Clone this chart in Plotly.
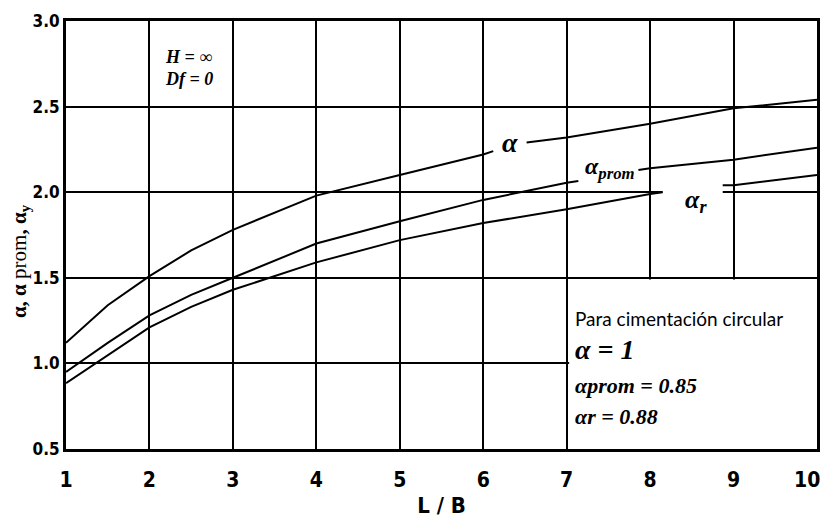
import plotly.graph_objects as go

# L/B ratio and the three influence factors (None marks a break where a label sits)
lb_alpha = [1, 1.5, 2, 2.5, 3, 3.5, 4, 5, 6, 6.12, None, 6.52, 7, 8, 9, 10]
alpha = [1.12, 1.34, 1.51, 1.66, 1.78, 1.88, 1.98, 2.10, 2.22, 2.24, None, 2.29, 2.32, 2.40, 2.49, 2.54]

lb_prom = [1, 1.5, 2, 2.5, 3, 4, 5, 6, 7, 7.14, None, 7.86, 8, 9, 10]
alpha_prom = [0.95, 1.12, 1.28, 1.40, 1.50, 1.70, 1.83, 1.955, 2.055, 2.065, None, 2.13, 2.14, 2.19, 2.26]

lb_r = [1, 1.5, 2, 2.5, 3, 4, 5, 6, 7, 8, 8.15, None, 8.87, 9, 10]
alpha_r = [0.885, 1.05, 1.21, 1.33, 1.43, 1.59, 1.72, 1.82, 1.90, 1.99, 2.0, None, 2.04, 2.04, 2.10]

x_ticks = list(range(1, 11))
x_tick_text = ["1", "2", "3", "4", "5", "6", "7", "8", "9", ""]  # "10" is set right-aligned below
last_tick_text = "10"
y_ticks = [0.5, 1.0, 1.5, 2.0, 2.5, 3.0]
y_tick_text = ["0.5", "1.0", "1.5", "2.0", "2.5", "3.0"]

SERIF = "'Liberation Serif', 'Times New Roman', 'DejaVu Serif', serif"
SANS = "'Liberation Sans Narrow', 'DejaVu Sans Condensed', Lato, sans-serif"
TEXT = "Lato, 'Open Sans', sans-serif"

fig = go.Figure()
for xs, ys in [(lb_alpha, alpha), (lb_prom, alpha_prom), (lb_r, alpha_r)]:
    fig.add_trace(go.Scatter(x=xs, y=ys, mode="lines", connectgaps=False,
                             line=dict(color="black", width=2), showlegend=False,
                             hoverinfo="skip"))

shapes = [
    # blank panel for the circular-footing note
    dict(type="rect", xref="x", yref="y", x0=7.03, x1=10, y0=0.5, y1=1.49,
         fillcolor="white", line=dict(width=0), layer="between"),
    # break in the 2.0 gridline behind the alpha_r label
    dict(type="rect", xref="x", yref="y", x0=8.15, x1=8.87, y0=1.97, y1=2.03,
         fillcolor="white", line=dict(width=0), layer="between"),
]

serif_bi = lambda s: dict(family=SERIF, size=s, color="black")

annotations = [
    dict(x=6.32, y=2.29, text="<b><i>α</i></b>", font=serif_bi(28)),
    dict(x=7.52, y=2.14, text="<b><i>α<sub>prom</sub></i></b>", font=serif_bi(24)),
    dict(x=8.55, y=1.95, text="<b><i>α<sub>r</sub></i></b>", font=serif_bi(26)),
    dict(x=2.47, y=2.79, text="<b><i>H = ∞</i></b>", font=serif_bi(18)),
    dict(x=2.47, y=2.66, text="<b><i>Df = 0</i></b>", font=serif_bi(18)),
    dict(x=7.08, y=1.26, text="Para cimentación circular", xanchor="left",
         font=dict(family=TEXT, size=19, color="black")),
    dict(x=7.08, y=1.08, text="<b><i>α = 1</i></b>", xanchor="left", font=serif_bi(28)),
    dict(x=7.08, y=0.87, text="<b><i>αprom = 0.85</i></b>", xanchor="left", font=serif_bi(22)),
    dict(x=7.08, y=0.69, text="<b><i>αr = 0.88</i></b>", xanchor="left", font=serif_bi(22)),
]
for a in annotations:
    a.update(xref="x", yref="y", showarrow=False)

# last x tick label, kept inside the right edge
annotations.append(dict(
    xref="x", yref="paper", x=x_ticks[-1], y=0, xanchor="right", yanchor="top",
    xshift=5, yshift=-17, showarrow=False, text="<b>%s</b>" % last_tick_text,
    font=dict(family=SANS, size=21, color="black")))

# rotated y-axis title
annotations.append(dict(
    xref="paper", yref="paper", x=-0.062, y=0.44, xanchor="center", yanchor="middle",
    textangle=-90, showarrow=False,
    text="<b>α, α</b> prom<b>, α<sub>y</sub></b>",
    font=dict(family=SERIF, size=21, color="black")))

fig.update_layout(
    width=824, height=518,
    margin=dict(l=66, r=7, t=21, b=69, autoexpand=False),
    paper_bgcolor="white", plot_bgcolor="white",
    shapes=shapes, annotations=annotations,
    xaxis=dict(range=[1, 10], tickvals=x_ticks, ticktext=x_tick_text, showgrid=True,
               gridcolor="black", gridwidth=2, showline=True, linecolor="black",
               linewidth=3, mirror=True, ticks="", zeroline=False,
               ticklabeloverflow="allow", ticklabelstandoff=10, automargin=False,
               tickfont=dict(family=SANS, size=21, color="black", weight="bold"),
               title=dict(text="<b>L / B</b>", standoff=12,
                          font=dict(family=SANS, size=22, color="black"))),
    yaxis=dict(range=[0.5, 3.0], tickvals=y_ticks, ticktext=y_tick_text, showgrid=True,
               gridcolor="black", gridwidth=2, showline=True, linecolor="black",
               linewidth=3, mirror=True, ticks="", zeroline=False, automargin=False,
               tickfont=dict(family=SANS, size=17, color="black", weight="bold")),
)

fig.write_html("out.html")
